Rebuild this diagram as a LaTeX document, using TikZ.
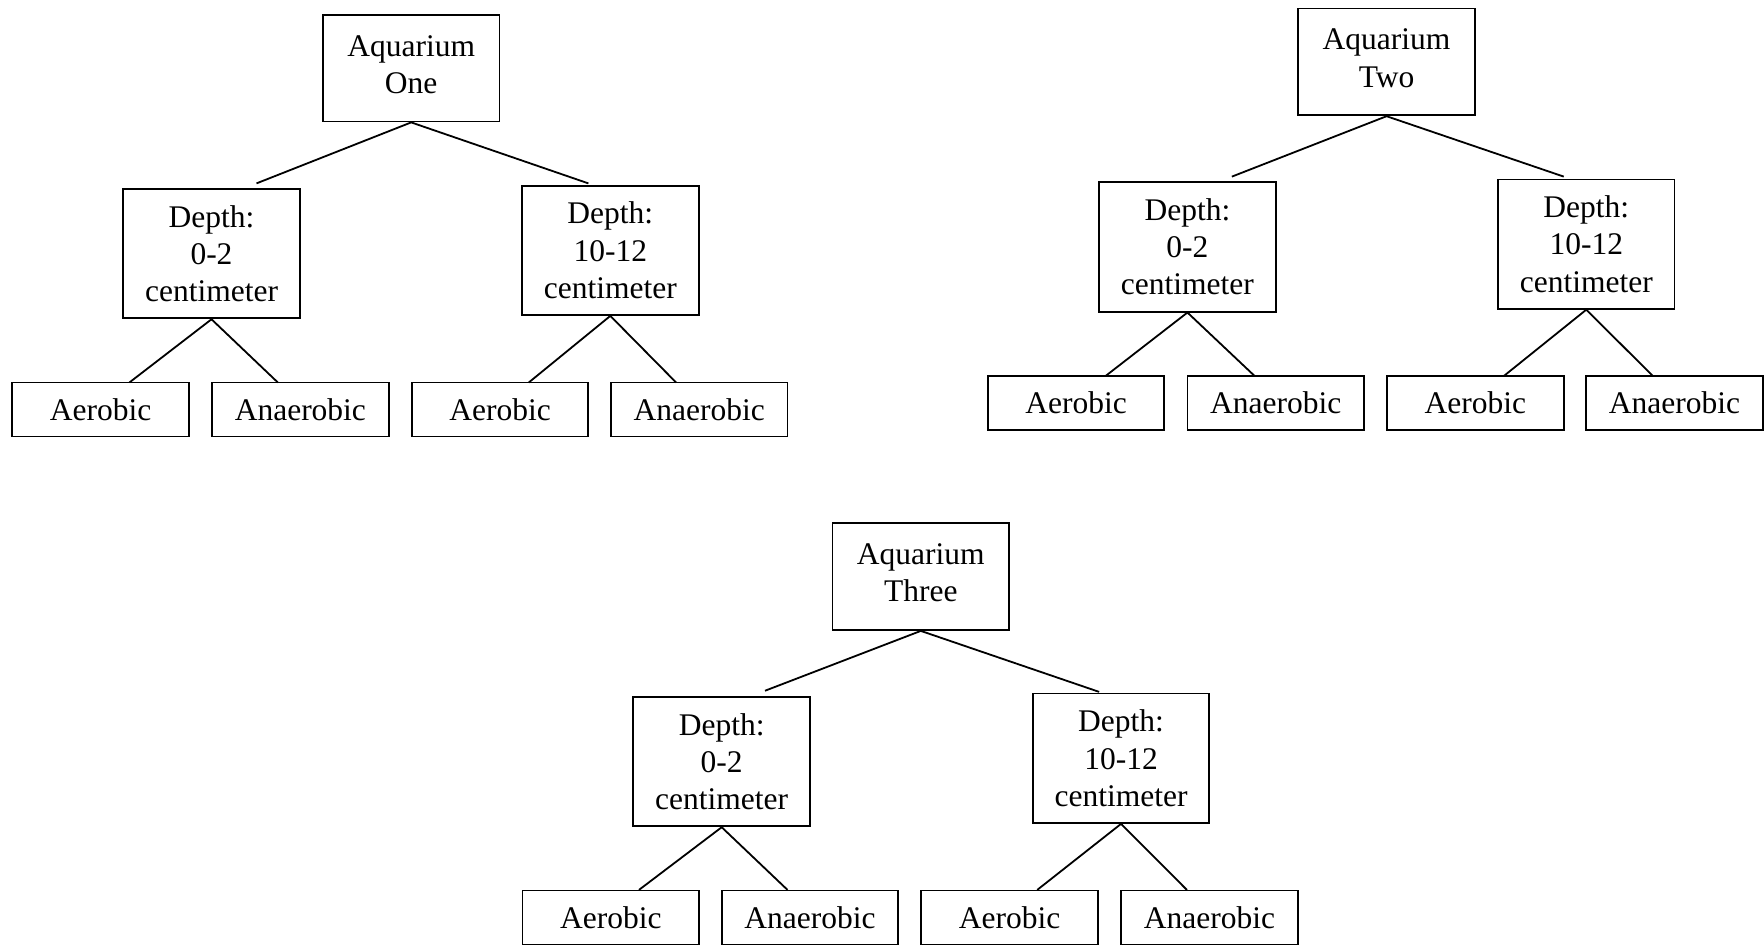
\documentclass[tikz,border=0pt]{standalone}
\usepackage{fontspec}
\setmainfont{Liberation Serif}
\begin{document}
\begin{tikzpicture}[x=0.5pt,y=-0.5pt,
  box/.style={draw, line width=0.8pt, inner sep=0pt, align=center,
    font=\fontsize{14}{16.5}\selectfont, minimum width=78.5pt},
  rootbox/.style={box, minimum height=47.5pt, text depth=3.4pt},
  depthbox/.style={box, minimum height=57.5pt},
  leafbox/.style={box, minimum height=24pt},
  conn/.style={line width=0.8pt}]
\useasboundingbox (0,0) rectangle (1568,840);
% ---------- Tree 1 ----------
\node[rootbox] (r1) at (365.5,60.5) {Aquarium\\One};
\node[depthbox] (d1a) at (188,225.5) {Depth:\\0-2\\centimeter};
\node[depthbox] (d1b) at (542.5,222.5) {Depth:\\10-12\\centimeter};
\node[leafbox] (l1a) at (89.5,364) {Aerobic};
\node[leafbox] (l1b) at (267,364) {Anaerobic};
\node[leafbox] (l1c) at (444.5,364) {Aerobic};
\node[leafbox] (l1d) at (621.5,364) {Anaerobic};
\coordinate (t1a) at (228,163);
\coordinate (t1b) at (523,163);
\coordinate (e1a) at (115,340);
\coordinate (e1b) at (247,340);
\coordinate (e1c) at (470,340);
\coordinate (e1d) at (601,340);
\draw[conn] (t1a) -- (r1.south) -- (t1b);
\draw[conn] (e1a) -- (d1a.south) -- (e1b);
\draw[conn] (e1c) -- (d1b.south) -- (e1d);
% ---------- Tree 2 ----------
\node[rootbox] (r2) at (1232.5,55) {Aquarium\\Two};
\node[depthbox] (d2a) at (1055.5,219.5) {Depth:\\0-2\\centimeter};
\node[depthbox] (d2b) at (1410,217) {Depth:\\10-12\\centimeter};
\node[leafbox] (l2a) at (956.5,358) {Aerobic};
\node[leafbox] (l2b) at (1134,358) {Anaerobic};
\node[leafbox] (l2c) at (1311.5,358) {Aerobic};
\node[leafbox] (l2d) at (1488.5,358) {Anaerobic};
\coordinate (t2a) at (1095,157);
\coordinate (t2b) at (1390,157);
\coordinate (e2a) at (983,334);
\coordinate (e2b) at (1115,334);
\coordinate (e2c) at (1337,334);
\coordinate (e2d) at (1469,334);
\draw[conn] (t2a) -- (r2.south) -- (t2b);
\draw[conn] (e2a) -- (d2a.south) -- (e2b);
\draw[conn] (e2c) -- (d2b.south) -- (e2d);
% ---------- Tree 3 ----------
\node[rootbox] (r3) at (818.5,512.5) {Aquarium\\Three};
\node[depthbox] (d3a) at (641.5,677) {Depth:\\0-2\\centimeter};
\node[depthbox] (d3b) at (996.5,674) {Depth:\\10-12\\centimeter};
\node[leafbox] (l3a) at (543,815.5) {Aerobic};
\node[leafbox] (l3b) at (720,815.5) {Anaerobic};
\node[leafbox] (l3c) at (897.5,815.5) {Aerobic};
\node[leafbox] (l3d) at (1075,815.5) {Anaerobic};
\coordinate (t3a) at (680,614);
\coordinate (t3b) at (977,615);
\coordinate (e3a) at (568,791);
\coordinate (e3b) at (700,791);
\coordinate (e3c) at (922,791);
\coordinate (e3d) at (1055,791);
\draw[conn] (t3a) -- (r3.south) -- (t3b);
\draw[conn] (e3a) -- (d3a.south) -- (e3b);
\draw[conn] (e3c) -- (d3b.south) -- (e3d);
\end{tikzpicture}
\end{document}
